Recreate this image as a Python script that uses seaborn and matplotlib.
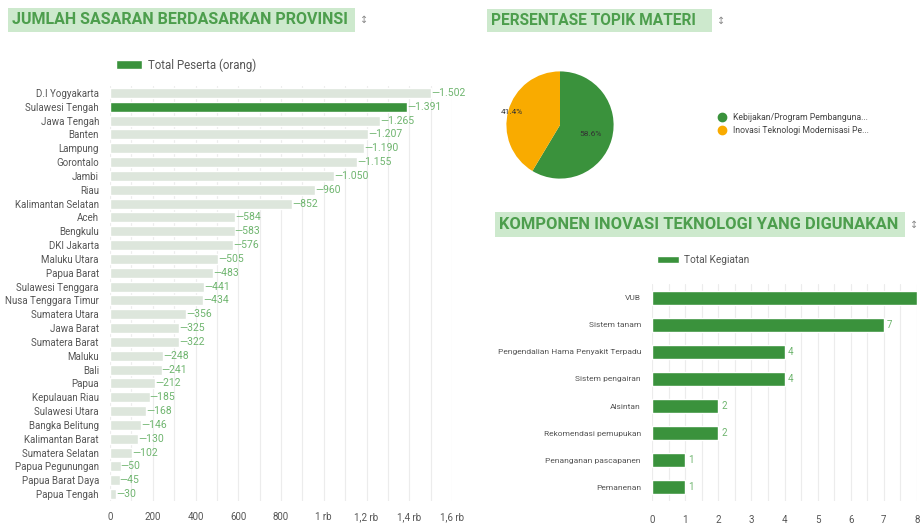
import matplotlib
matplotlib.use("Agg")
import matplotlib.pyplot as plt
from matplotlib.patches import Patch, Rectangle
from matplotlib.lines import Line2D
import seaborn as sns

provinces = ['D.I Yogyakarta', 'Sulawesi Tengah', 'Jawa Tengah', 'Banten', 'Lampung',
             'Gorontalo', 'Jambi', 'Riau', 'Kalimantan Selatan', 'Aceh', 'Bengkulu',
             'DKI Jakarta', 'Maluku Utara', 'Papua Barat', 'Sulawesi Tenggara',
             'Nusa Tenggara Timur', 'Sumatera Utara', 'Jawa Barat', 'Sumatera Barat',
             'Maluku', 'Bali', 'Papua', 'Kepulauan Riau', 'Sulawesi Utara',
             'Bangka Belitung', 'Kalimantan Barat', 'Sumatera Selatan',
             'Papua Pegunungan', 'Papua Barat Daya', 'Papua Tengah']
peserta = [1502, 1391, 1265, 1207, 1190, 1155, 1050, 960, 852, 584, 583, 576, 505, 483,
           441, 434, 356, 325, 322, 248, 241, 212, 185, 168, 146, 130, 102, 50, 45, 30]
highlight = 'Sulawesi Tengah'
x_ticks_left = [0, 200, 400, 600, 800, 1000, 1200, 1400, 1600]
x_ticklabels_left = ['0', '200', '400', '600', '800', '1 rb', '1,2 rb', '1,4 rb', '1,6 rb']

topik = ['Kebijakan/Program Pembanguna...', 'Inovasi Teknologi Modernisasi Pe...']
topik_pct = [58.6, 41.4]

komponen = ['VUB', 'Sistem tanam', 'Pengendalian Hama Penyakit Terpadu', 'Sistem pengairan',
            'Alsintan', 'Rekomendasi pemupukan', 'Penanganan pascapanen', 'Pemanenan']
kegiatan = [8, 7, 4, 4, 2, 2, 1, 1]

GREEN = '#3a923c'
LIGHT = '#dde6dc'
LABEL_GREEN = '#6fb56f'
TITLE_BG = '#cde9cd'
TITLE_FG = '#4d9e4d'

sns.set_theme(style='white')
plt.rcParams['font.family'] = ['Roboto', 'DejaVu Sans']

W, H = 923, 524
fig = plt.figure(figsize=(W / 100, H / 100), dpi=100)
fig.patch.set_facecolor('white')


def box(x0, y0, x1, y1):
    return [x0 / W, 1 - y1 / H, (x1 - x0) / W, (y1 - y0) / H]


def title(x0, y0, x1, y1, text, size):
    fig.patches.append(Rectangle((x0 / W, 1 - y1 / H), (x1 - x0) / W, (y1 - y0) / H,
                                 transform=fig.transFigure, facecolor=TITLE_BG,
                                 edgecolor='none', zorder=0))
    fig.text((x0 + 4) / W, 1 - (y0 + y1) / 2 / H, text, color=TITLE_FG, fontsize=size,
             fontweight='bold', va='center', ha='left')
    fig.text((x1 + 5) / W, 1 - (y0 + y1) / 2 / H, '\u2195', color='#888888', fontsize=7,
             va='center', ha='left')


def fmt(v):
    return f'{v:,}'.replace(',', '.')


# left: provinces
ax1 = fig.add_axes(box(110, 86, 452, 501))
sns.barplot(x=peserta, y=provinces, color=LIGHT, saturation=1, orient='h', width=0.72,
            ax=ax1, zorder=2)
bars = ax1.containers[0]
for bar, p in zip(bars, provinces):
    if p == highlight:
        bar.set_facecolor(GREEN)
ax1.set_xlim(0, 1600)
ax1.set_xticks(x_ticks_left)
ax1.set_xticklabels(x_ticklabels_left)
ax1.set_xticks(range(100, 1600, 200), minor=True)
ax1.grid(axis='x', which='both', color='#ececec', linewidth=0.8, zorder=0)
ax1.tick_params(axis='y', labelsize=7, colors='#555555', length=0, pad=8)
ax1.tick_params(axis='x', labelsize=7, colors='#555555', length=0, pad=8)
for s in ax1.spines.values():
    s.set_visible(False)
ax1.set_xlabel('')
ax1.set_ylabel('')
ax1.bar_label(bars, labels=['\u2014' + fmt(v) for v in peserta],
              fontsize=7.5, color=LABEL_GREEN, padding=0)
title(8, 8, 355, 32, 'JUMLAH SASARAN BERDASARKAN PROVINSI', 11.5)
fig.legend(handles=[Patch(facecolor=GREEN, label='Total Peserta (orang)')],
           loc='center left', bbox_to_anchor=(106 / W, 1 - 65 / H), frameon=False,
           fontsize=8.3, handlelength=2.2, handleheight=0.8, handletextpad=0.5,
           labelcolor='#555555')

# right top: pie
ax2 = fig.add_axes(box(493, 58, 627, 192))
wedges, texts, autotexts = ax2.pie(topik_pct, colors=[GREEN, '#f9ab00'], startangle=90,
                                   counterclock=False, autopct='%.1f%%', pctdistance=0.6,
                                   textprops={'fontsize': 6, 'color': '#333333'},
                                   wedgeprops={'linewidth': 0})
x, y = autotexts[1].get_position()
autotexts[1].set_position((x * 1.55, y * 1.55))
ax2.set_aspect('equal')
title(487, 9, 712, 32, 'PERSENTASE TOPIK MATERI', 11.2)
handles = [Line2D([], [], marker='o', linestyle='', markersize=6, markerfacecolor=c,
                  markeredgecolor=c, label=t) for c, t in zip([GREEN, '#f9ab00'], topik)]
fig.legend(handles=handles, loc='center left', bbox_to_anchor=(706 / W, 1 - 124 / H),
           frameon=False, fontsize=6.2, handletextpad=0.2, labelspacing=0.5,
           labelcolor='#444444')

# right bottom: komponen
ax3 = fig.add_axes(box(652, 284, 917, 501))
sns.barplot(x=kegiatan, y=komponen, color=GREEN, orient='h', width=0.52, ax=ax3,
            zorder=2, saturation=1)
ax3.set_xlim(0, 8)
ax3.set_xticks(range(0, 9))
ax3.set_xticks([i + 0.5 for i in range(8)], minor=True)
ax3.grid(axis='x', which='both', color='#ececec', linewidth=0.8, zorder=0)
ax3.tick_params(axis='y', labelsize=6, colors='#555555', length=0, pad=8)
ax3.tick_params(axis='x', labelsize=7, colors='#555555', length=0, pad=10)
for s in ax3.spines.values():
    s.set_visible(False)
ax3.set_xlabel('')
ax3.set_ylabel('')
xmax = ax3.get_xlim()[1]
ax3.bar_label(ax3.containers[0], labels=[str(v) if v < xmax else '' for v in kegiatan],
              fontsize=7, color=LABEL_GREEN, padding=2)
title(495, 212, 905, 237, 'KOMPONEN INOVASI TEKNOLOGI YANG DIGUNAKAN', 11.9)
fig.legend(handles=[Patch(facecolor=GREEN, label='Total Kegiatan')],
           loc='center left', bbox_to_anchor=(648 / W, 1 - 260 / H), frameon=False,
           fontsize=7.3, handlelength=2.2, handleheight=0.8, handletextpad=0.5,
           labelcolor='#555555')

fig.savefig('out.png', dpi=100, facecolor='white')
